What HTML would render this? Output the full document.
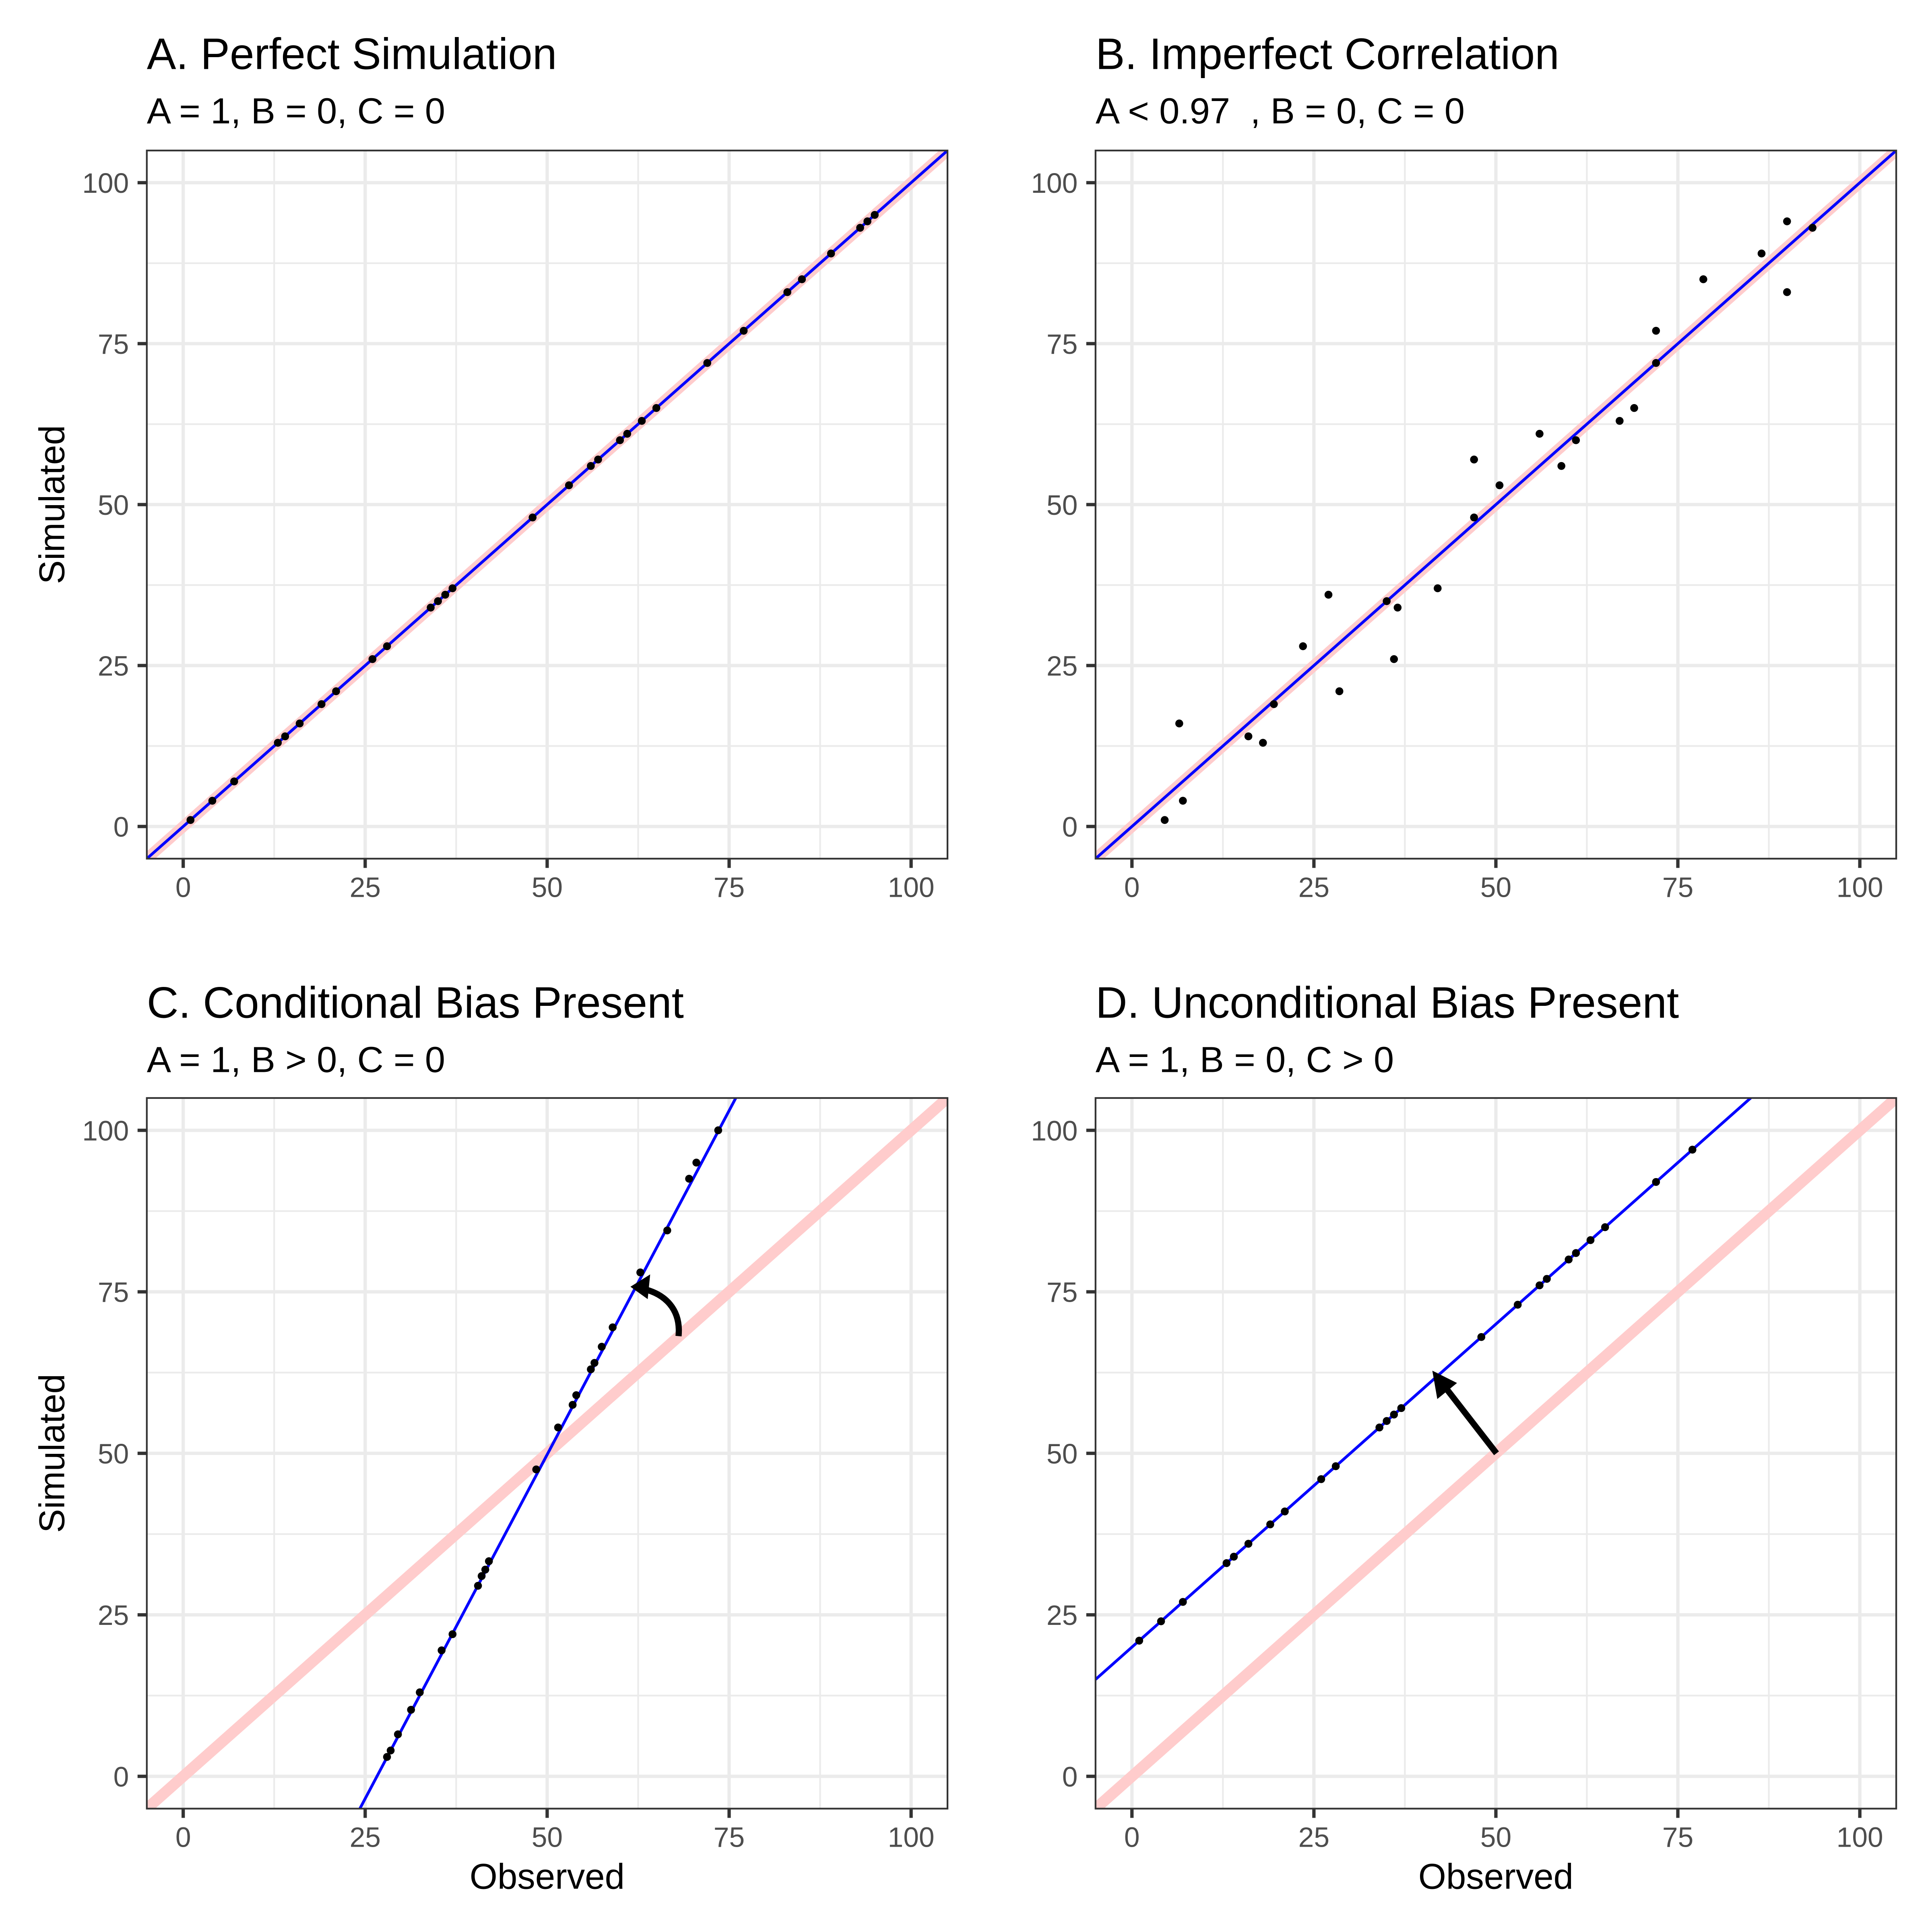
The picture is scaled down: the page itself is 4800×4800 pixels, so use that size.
<!DOCTYPE html>
<html><head><meta charset="utf-8"><style>
html,body{margin:0;padding:0;background:#fff;overflow:hidden;width:4800px;height:4800px}
svg{display:block;position:absolute;left:0;top:0}
text{font-family:"Liberation Sans",Arial,sans-serif}
</style></head><body>
<svg id="chart" width="4800" height="4800" viewBox="0 0 1566 1566" xmlns="http://www.w3.org/2000/svg"></svg>
<script>
const ticks = [0, 25, 50, 75, 100];
const tickLabels = ["0", "25", "50", "75", "100"];
const minorTicks = [12.5, 37.5, 62.5, 87.5];
const titles = ["A. Perfect Simulation", "B. Imperfect Correlation", "C. Conditional Bias Present", "D. Unconditional Bias Present"];
const subtitles = ["A = 1, B = 0, C = 0", "A < 0.97  , B = 0, C = 0", "A = 1, B > 0, C = 0", "A = 1, B = 0, C > 0"];
const obsA = [1,4,7,13,14,16,19,21,26,28,34,35,36,37,48,53,56,57,60,61,63,65,72,77,83,85,89,93,94,95];
const simA = [1,4,7,13,14,16,19,21,26,28,34,35,36,37,48,53,56,57,60,61,63,65,72,77,83,85,89,93,94,95];
const obsB = [4.5,6.5,7,16,18,19.5,23.5,27,28.5,35,36,36.5,42,47,47,50.5,56,59,61,67,69,72,72,78.5,86.5,90,90,93.5];
const simB = [1,16,4,14,13,19,28,36,21,35,26,34,37,57,48,53,61,56,60,63,65,77,72,85,89,94,83,93];
const obsC = [28,28.5,29.5,31.3,32.5,35.5,37,40.5,41,41.5,42,48.5,51.5,53.5,54,56,56.5,57.5,59,62.8,66.5,69.5,70.5,73.5];
const simC = [3,4,6.5,10.3,13,19.5,22,29.5,31,32,33.3,47.5,54,57.5,59,63,64,66.5,69.5,78,84.5,92.5,95,100];
const obsD = [1,4,7,13,14,16,19,21,26,28,34,35,36,37,48,53,56,57,60,61,63,65,72,77];
const simD = [21,24,27,33,34,36,39,41,46,48,54,55,56,57,68,73,76,77,80,81,83,85,92,97];
const fitSlope = [1, 1, 2.13, 1];
const fitIntercept = [0, 0, -56.7, 20];

const svg = document.getElementById('chart');
const NS = 'http://www.w3.org/2000/svg';
function mk(tag, attrs, parent) {
  const e = document.createElementNS(NS, tag);
  for (const k in attrs) e.setAttribute(k, attrs[k]);
  (parent || svg).appendChild(e);
  return e;
}
const panels = [
  {x0:119, x1:768, y0:122, y1:696, tY:56, sY:100},
  {x0:888, x1:1537, y0:122, y1:696, tY:56, sY:100},
  {x0:119, x1:768, y0:890, y1:1466, tY:825, sY:869},
  {x0:888, x1:1537, y0:890, y1:1466, tY:825, sY:869}
];
const obsAll = [obsA, obsB, obsC, obsD];
const simAll = [simA, simB, simC, simD];
const names = ['a','b','c','d'];

panels.forEach((p, i) => {
  const g = mk('g', {});
  
  
  const sx = v => p.x0 + (v + 5) / 110 * (p.x1 - p.x0);
  const sy = v => p.y1 - (v + 5) / 110 * (p.y1 - p.y0);
  const t = mk('text', {x:p.x0, y:p.tY, 'font-size':35.6, fill:'#000'}, g);
  t.textContent = titles[i];
  
  
  const st = mk('text', {x:p.x0, y:p.sY, 'font-size':29.5, fill:'#000', style:'white-space:pre'}, g);
  st.textContent = subtitles[i];
  
  
  const clipId = 'clip' + i;
  const cp = mk('clipPath', {id: clipId}, g);
  mk('rect', {x:p.x0, y:p.y0, width:p.x1-p.x0, height:p.y1-p.y0}, cp);
  const plot = mk('g', {'clip-path':'url(#' + clipId + ')'}, g);
  
  
  minorTicks.forEach(v => {
    mk('line', {x1:sx(v), x2:sx(v), y1:p.y0, y2:p.y1, stroke:'#ebebeb', 'stroke-width':1.4}, plot);
    mk('line', {y1:sy(v), y2:sy(v), x1:p.x0, x2:p.x1, stroke:'#ebebeb', 'stroke-width':1.4}, plot);
  });
  ticks.forEach(v => {
    mk('line', {x1:sx(v), x2:sx(v), y1:p.y0, y2:p.y1, stroke:'#ebebeb', 'stroke-width':2.7}, plot);
    mk('line', {y1:sy(v), y2:sy(v), x1:p.x0, x2:p.x1, stroke:'#ebebeb', 'stroke-width':2.7}, plot);
  });
  const ref = mk('line', {x1:sx(-10), y1:sy(-10), x2:sx(110), y2:sy(110), stroke:'#ffcccc', 'stroke-width':9}, plot);
  
  
  const m = fitSlope[i], b = fitIntercept[i];
  const fit = mk('line', {x1:sx(-10), y1:sy(m*-10+b), x2:sx(110), y2:sy(m*110+b), stroke:'#0000ff', 'stroke-width':2.3}, plot);
  
  
  obsAll[i].forEach((o, k) => {
    const c = mk('circle', {cx:sx(o), cy:sy(simAll[i][k]), r:3.2, fill:'#000'}, plot);
    
    
  });
  mk('rect', {x:p.x0, y:p.y0, width:p.x1-p.x0, height:p.y1-p.y0, fill:'none', stroke:'#333', 'stroke-width':1.4}, g);
  ticks.forEach((v, k) => {
    mk('line', {x1:sx(v), x2:sx(v), y1:p.y1, y2:p.y1+7.5, stroke:'#333', 'stroke-width':2.7}, g);
    mk('line', {x1:p.x0-7.5, x2:p.x0, y1:sy(v), y2:sy(v), stroke:'#333', 'stroke-width':2.7}, g);
    const xl = mk('text', {x:sx(v), y:p.y1+31, 'font-size':22.7, fill:'#4d4d4d', 'text-anchor':'middle'}, g);
    xl.textContent = tickLabels[k];
    
    
    const yl = mk('text', {x:p.x0-14.5, y:sy(v)+8.2, 'font-size':22.7, fill:'#4d4d4d', 'text-anchor':'end'}, g);
    yl.textContent = tickLabels[k];
    
    
  });
  if (i >= 2) {
    const xt = mk('text', {x:(p.x0+p.x1)/2, y:1531, 'font-size':29, fill:'#000', 'text-anchor':'middle'}, g);
    xt.textContent = 'Observed';
    
    
  }
  if (i % 2 === 0) {
    const cy = (p.y0 + p.y1) / 2;
    const yt = mk('text', {x:52, y:cy, 'font-size':29, fill:'#000', 'text-anchor':'middle', transform:'rotate(-90 52 ' + cy + ')'}, g);
    yt.textContent = 'Simulated';
    
    
  }
  if (i === 2) {
    const a = mk('path', {d:'M550,1083 C552,1062 540,1048 518,1044', fill:'none', stroke:'#000', 'stroke-width':5}, g);
    
    
    mk('path', {d:'M511,1043 L527,1033 L525,1053 Z', fill:'#000'}, g);
  }
  if (i === 3) {
    const a = mk('line', {x1:1213, y1:1178, x2:1168, y2:1120, stroke:'#000', 'stroke-width':5}, g);
    
    
    mk('path', {d:'M1161,1111 L1181,1121 L1165,1134 Z', fill:'#000'}, g);
  }
});
</script>
</body></html>
